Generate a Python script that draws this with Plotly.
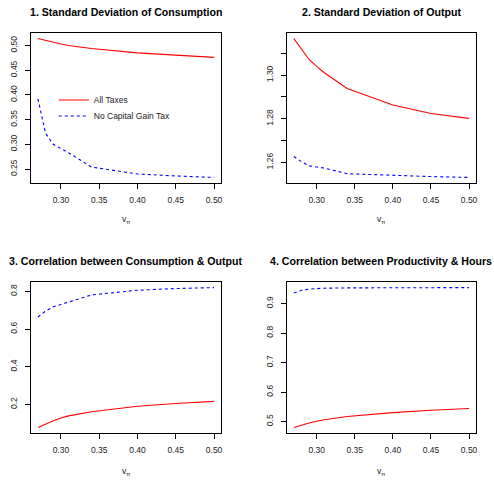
import plotly.graph_objects as go

# Grid of the pi parameter
v_pi = [0.27, 0.28, 0.29, 0.30, 0.31, 0.34, 0.40, 0.45, 0.50]

# 1. Standard deviation of consumption
sd_cons_all = [0.514, 0.510, 0.506, 0.503, 0.500, 0.494, 0.485, 0.480, 0.476]
sd_cons_nocg = [0.392, 0.322, 0.300, 0.292, 0.283, 0.254, 0.240, 0.236, 0.233]

# 2. Standard deviation of output
sd_out_all = [1.3168, 1.3117, 1.3072, 1.3040, 1.3011, 1.2939, 1.2863, 1.2824, 1.2802]
sd_out_nocg = [1.2627, 1.2603, 1.2584, 1.2579, 1.2574, 1.2548, 1.2540, 1.2535, 1.2531]

# 3. Correlation between consumption and output
corr_cy_all = [0.078, 0.097, 0.113, 0.128, 0.139, 0.161, 0.190, 0.205, 0.216]
corr_cy_nocg = [0.664, 0.695, 0.718, 0.730, 0.742, 0.781, 0.806, 0.815, 0.820]

# 4. Correlation between productivity and hours
corr_ph_all = [0.480, 0.488, 0.495, 0.501, 0.506, 0.517, 0.530, 0.538, 0.544]
corr_ph_nocg = [0.936, 0.945, 0.949, 0.951, 0.952, 0.953, 0.954, 0.954, 0.954]

titles = [
    "1. Standard Deviation of Consumption",
    "2. Standard Deviation of Output",
    "3. Correlation between Consumption & Output",
    "4. Correlation between Productivity & Hours",
]
series_names = ["All Taxes", "No Capital Gain Tax"]

x_ticks = [0.30, 0.35, 0.40, 0.45, 0.50]
y_ticks = [
    [0.25, 0.30, 0.35, 0.40, 0.45, 0.50],
    [1.26, 1.27, 1.28, 1.29, 1.30, 1.31],
    [0.2, 0.4, 0.6, 0.8],
    [0.5, 0.6, 0.7, 0.8, 0.9],
]
y_ticktext = [
    ["0.25", "0.30", "0.35", "0.40", "0.45", "0.50"],
    ["1.26", "", "1.28", "", "1.30", ""],
    ["0.2", "0.4", "0.6", "0.8"],
    ["0.5", "0.6", "0.7", "0.8", "0.9"],
]

panels = [
    (sd_cons_all, sd_cons_nocg),
    (sd_out_all, sd_out_nocg),
    (corr_cy_all, corr_cy_nocg),
    (corr_ph_all, corr_ph_nocg),
]

W, H = 494, 480
# plot-region boxes in pixels: (left, right, top, bottom)
boxes = [
    (31, 222, 33, 183),
    (288, 478, 33, 183),
    (31, 222, 282, 433),
    (288, 478, 282, 433),
]

FONT = "Liberation Sans, Arial, Helvetica, sans-serif"
RED = "#FF0000"
BLUE = "#0000FF"


def padded(lo, hi, frac=0.04):
    r = hi - lo
    return [lo - frac * r, hi + frac * r]


fig = go.Figure()
annotations = []

for i, (all_tax, no_cg) in enumerate(panels):
    n = i + 1
    xa = "x" if n == 1 else f"x{n}"
    ya = "y" if n == 1 else f"y{n}"
    fig.add_trace(go.Scatter(
        x=v_pi, y=all_tax, mode="lines", xaxis=xa, yaxis=ya,
        name=series_names[0], showlegend=(n == 1), legend="legend",
        line=dict(color=RED, width=1.1),
    ))
    fig.add_trace(go.Scatter(
        x=v_pi, y=no_cg, mode="lines", xaxis=xa, yaxis=ya,
        name=series_names[1], showlegend=(n == 1), legend="legend2",
        line=dict(color=BLUE, width=1.1, dash="3px,3px"),
    ))

    l, r, t, b = boxes[i]
    xkey = "xaxis" if n == 1 else f"xaxis{n}"
    ykey = "yaxis" if n == 1 else f"yaxis{n}"
    common = dict(
        showline=True, linecolor="black", linewidth=1, mirror=True,
        ticks="outside", ticklen=5, tickcolor="black", tickwidth=1,
        showgrid=False, zeroline=False,
        tickfont=dict(family=FONT, size=8.5, color="#222"),
    )
    fig.update_layout({
        xkey: dict(
            domain=[l / W, r / W], anchor=ya,
            range=padded(min(v_pi), max(v_pi)),
            tickvals=x_ticks, ticktext=[f"{v:.2f}" for v in x_ticks],
            ticklabelstandoff=4,
            **common,
        ),
        ykey: dict(
            domain=[1 - b / H, 1 - t / H], anchor=xa,
            range=padded(min(all_tax + no_cg), max(all_tax + no_cg)),
            tickvals=y_ticks[i], ticktext=y_ticktext[i],
            tickangle=-90, ticklabelstandoff=4,
            **common,
        ),
    })

    cx = (l + r) / 2 / W
    annotations.append(dict(
        text=f"<b>{titles[i]}</b>", x=cx, y=1 - (12 if n <= 2 else 261) / H,
        xref="paper", yref="paper", xanchor="center", yanchor="middle",
        showarrow=False, font=dict(family=FONT, size=10.6, color="black"),
    ))
    annotations.append(dict(
        text="v<sub>π</sub>", x=cx, y=1 - (220 if n <= 2 else 471) / H,
        xref="paper", yref="paper", xanchor="center", yanchor="middle",
        showarrow=False, font=dict(family=FONT, size=8.5, color="#222"),
    ))

legend_style = dict(
    xanchor="left", yanchor="middle",
    bgcolor="rgba(0,0,0,0)", borderwidth=0,
    font=dict(family=FONT, size=8.5, color="#222"),
    itemwidth=30,
)

fig.update_layout(
    width=W, height=H,
    margin=dict(l=0, r=0, t=0, b=0),
    paper_bgcolor="white", plot_bgcolor="white",
    annotations=annotations,
    legend=dict(x=54 / W, y=1 - 100 / H, **legend_style),
    legend2=dict(x=54 / W, y=1 - 116 / H, **legend_style),
)

fig.write_html("out.html")
